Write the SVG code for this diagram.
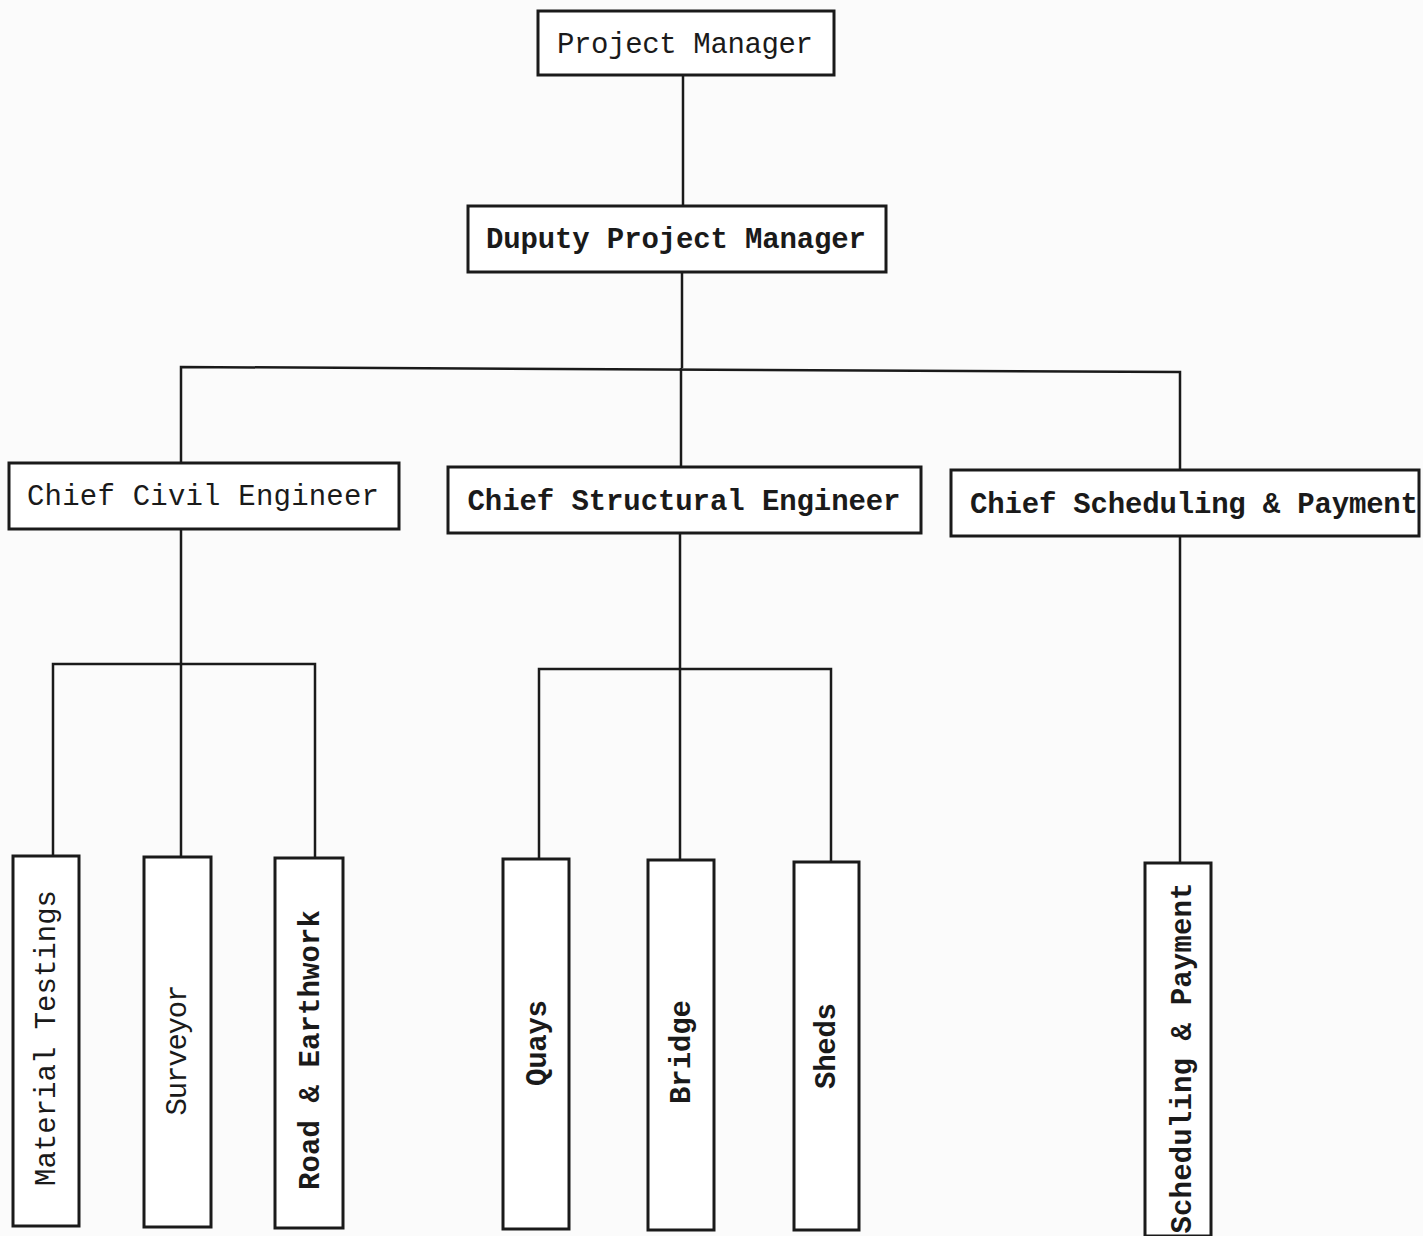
<svg xmlns="http://www.w3.org/2000/svg" width="1423" height="1236" viewBox="0 0 1423 1236">
<style>
.box{fill:#fff;stroke:#1a1a1a;stroke-width:3}
.ln{fill:none;stroke:#1a1a1a;stroke-width:2.5}
.t{font-family:"Liberation Mono","Courier New",monospace;font-size:29px;fill:#1a1a1a;text-anchor:middle}
.b{font-weight:bold}
.v{dominant-baseline:central}
</style>
<rect width="1423" height="1236" fill="#fbfbfb"/>
<g id="connectors">
<path class="ln" d="M683,75 V205"/>
<path class="ln" d="M682,272 V368"/>
<path class="ln" d="M181,463 V367 L1180,372 V470"/>
<path class="ln" d="M681,368 V467"/>
<path class="ln" d="M181,529 V857"/>
<path class="ln" d="M53,856 V664 H315 V858"/>
<path class="ln" d="M680,533 V860"/>
<path class="ln" d="M539,859 V669 H831 V862"/>
<path class="ln" d="M1180,536 V863"/>
</g>
<g id="project-manager">
<rect class="box" x="538" y="11" width="296" height="64"/>
<text class="t" x="685" y="53" textLength="256" lengthAdjust="spacing">Project Manager</text>
</g>
<g id="deputy-project-manager">
<rect class="box" x="468" y="206" width="418" height="66"/>
<text class="t b" x="676" y="248" textLength="380" lengthAdjust="spacing">Duputy Project Manager</text>
</g>
<g id="chief-civil">
<rect class="box" x="9" y="463" width="390" height="66"/>
<text class="t" x="203" y="505" textLength="352" lengthAdjust="spacing">Chief Civil Engineer</text>
</g>
<g id="chief-structural">
<rect class="box" x="448" y="467" width="473" height="66"/>
<text class="t b" x="684" y="510" textLength="433" lengthAdjust="spacing">Chief Structural Engineer</text>
</g>
<g id="chief-scheduling">
<rect class="box" x="951" y="470" width="468" height="66"/>
<text class="t b" x="1194" y="513" textLength="448" lengthAdjust="spacing">Chief Scheduling &amp; Payment</text>
</g>
<g id="material-testings">
<rect class="box" x="13" y="856" width="66" height="370"/>
<text class="t v" transform="translate(47,1038) rotate(-90)" textLength="296" lengthAdjust="spacing">Material Testings</text>
</g>
<g id="surveyor">
<rect class="box" x="144" y="857" width="67" height="370"/>
<text class="t v" transform="translate(178,1050) rotate(-90)" textLength="131" lengthAdjust="spacing">Surveyor</text>
</g>
<g id="road-earthwork">
<rect class="box" x="275" y="858" width="68" height="370"/>
<text class="t v b" transform="translate(311,1050) rotate(-90)" textLength="280" lengthAdjust="spacing">Road &amp; Earthwork</text>
</g>
<g id="quays">
<rect class="box" x="503" y="859" width="66" height="370"/>
<text class="t v b" transform="translate(538,1043) rotate(-90)" textLength="86" lengthAdjust="spacing">Quays</text>
</g>
<g id="bridge">
<rect class="box" x="648" y="860" width="66" height="370"/>
<text class="t v b" transform="translate(682,1052) rotate(-90)" textLength="104" lengthAdjust="spacing">Bridge</text>
</g>
<g id="sheds">
<rect class="box" x="794" y="862" width="65" height="368"/>
<text class="t v b" transform="translate(827,1046) rotate(-90)" textLength="86" lengthAdjust="spacing">Sheds</text>
</g>
<g id="scheduling-payment">
<rect class="box" x="1145" y="863" width="66" height="373"/>
<text class="t v b" transform="translate(1183,1058) rotate(-90)" textLength="351" lengthAdjust="spacing">Scheduling &amp; Payment</text>
</g>
</svg>
